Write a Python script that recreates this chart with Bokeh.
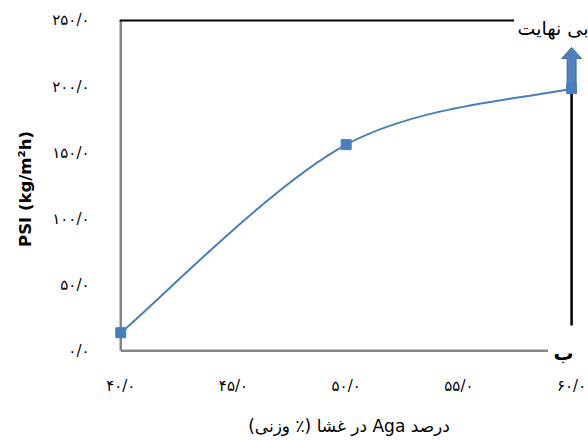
from bokeh.plotting import figure
from bokeh.models import FixedTicker, Label, Range1d
from bokeh.embed import file_html
from bokeh.resources import INLINE

# ---- data ----
aga_pct = [40, 50, 60]
psi = [13.6, 156.0, 198.5]
x_ticks = [40, 45, 50, 55, 60]
x_tick_labels = ["۴۰/۰", "۴۵/۰", "۵۰/۰", "۵۵/۰", "۶۰/۰"]
y_ticks = [0, 50, 100, 150, 200, 250]
y_tick_labels = ["۰/۰", "۵۰/۰", "۱۰۰/۰", "۱۵۰/۰", "۲۰۰/۰", "۲۵۰/۰"]
x_title = "\u202Bدرصد Aga در غشا (٪ وزنی)\u202C"
y_title = "PSI (kg/m²h)"
infinity_text = "بی نهایت"
panel_letter = "ب"

BLUE = "#4a7ebb"
ARROW_BLUE = "#4f81bd"
GRAY = "#868686"

X0, X1 = 39.5, 60.75
Y0, Y1 = -12, 256.8
FRAME_W = 588 - 109
FRAME_H = 441 - 11 - 75

p = figure(width=588, height=441, output_backend="svg", toolbar_location=None,
           x_range=Range1d(X0, X1), y_range=Range1d(Y0, Y1),
           min_border_left=109, min_border_right=0, min_border_top=11,
           min_border_bottom=75)
p.outline_line_color = None
p.grid.visible = False
p.background_fill_color = "white"

for ax in (p.xaxis[0], p.yaxis[0]):
    ax.axis_line_color = None
    ax.major_tick_line_color = None
    ax.minor_tick_line_color = None
    ax.major_label_text_font = "DejaVu Sans"
    ax.major_label_text_font_size = "15px"
    ax.major_label_text_color = "black"

p.xaxis.ticker = FixedTicker(ticks=x_ticks)
p.xaxis.major_label_overrides = dict(zip(x_ticks, x_tick_labels))
p.yaxis.ticker = FixedTicker(ticks=y_ticks)
p.yaxis.major_label_overrides = dict(zip(y_ticks, y_tick_labels))
p.xaxis.major_label_standoff = 4
p.yaxis.major_label_standoff = 14

p.xaxis.axis_label = x_title
p.xaxis.axis_label_text_font = "DejaVu Sans"
p.xaxis.axis_label_text_font_size = "17px"
p.xaxis.axis_label_text_font_style = "normal"
p.xaxis.axis_label_text_color = "black"
p.xaxis.axis_label_standoff = 18

p.yaxis.axis_label = y_title
p.yaxis.axis_label_text_font = "DejaVu Sans"
p.yaxis.axis_label_text_font_size = "16.5px"
p.yaxis.axis_label_text_font_style = "bold"
p.yaxis.axis_label_text_color = "black"
p.yaxis.axis_label_standoff = 14

x0 = aga_pct[0]
x_last = aga_pct[-1]
y_top = y_ticks[-1]
y_bot = y_ticks[0]

# frame-like lines
p.segment(x0=[x0], y0=[y_bot], x1=[x0], y1=[y_top], line_color=GRAY, line_width=2.5)
p.segment(x0=[x0], y0=[y_bot], x1=[58.95], y1=[y_bot], line_color=GRAY, line_width=2.5)
p.segment(x0=[x0 - 0.05], y0=[y_top], x1=[57.45], y1=[y_top], line_color="black", line_width=2)
p.segment(x0=[x_last], y0=[19], x1=[x_last], y1=[225], line_color="black", line_width=2.5)

# smoothed line (Excel-like cubic bezier through the points)
pts = list(zip(aga_pct, psi))
n = len(pts)
bx0, by0, bx1, by1, c0x, c0y, c1x, c1y = ([] for _ in range(8))
for i in range(n - 1):
    pm = pts[max(i - 1, 0)]
    pa = pts[i]
    pb = pts[i + 1]
    pn = pts[min(i + 2, n - 1)]
    bx0.append(pa[0]); by0.append(pa[1])
    bx1.append(pb[0]); by1.append(pb[1])
    c0x.append(pa[0] + (pb[0] - pm[0]) / 6); c0y.append(pa[1] + (pb[1] - pm[1]) / 6)
    c1x.append(pb[0] - (pn[0] - pa[0]) / 6); c1y.append(pb[1] - (pn[1] - pa[1]) / 6)
p.bezier(x0=bx0, y0=by0, x1=bx1, y1=by1, cx0=c0x, cy0=c0y, cx1=c1x, cy1=c1y,
         line_color=BLUE, line_width=2)

# upward block arrow above the last point (sized in pixels, converted to data units)
ux = (X1 - X0) / FRAME_W      # data units per pixel, x
uy = (Y1 - Y0) / FRAME_H      # data units per pixel, y
tip_y = psi[-1] + 41 * uy
head_base = tip_y - 11 * uy
shaft_bot = psi[-1] + 5 * uy
ax_ = [x_last, x_last + 10 * ux, x_last + 4.5 * ux, x_last + 4.5 * ux,
       x_last - 4.5 * ux, x_last - 4.5 * ux, x_last - 10 * ux]
ay_ = [tip_y, head_base, head_base, shaft_bot, shaft_bot, head_base, head_base]
p.patch(ax_, ay_, fill_color=ARROW_BLUE, line_color="#41719c", line_width=1)

p.scatter(aga_pct, psi, marker="square", size=10, fill_color=BLUE, line_color=BLUE)

p.add_layout(Label(x=57.6, y=y_top, text=infinity_text, text_align="left",
                   text_baseline="alphabetic", y_offset=-8,
                   text_font="DejaVu Sans", text_font_size="19px", text_color="black"))
p.add_layout(Label(x=x_last, y=y_bot, text=panel_letter, text_align="right",
                   text_baseline="alphabetic", x_offset=2, y_offset=-2,
                   text_font="DejaVu Sans", text_font_size="20px",
                   text_font_style="bold", text_color="black"))

open("out.html", "w").write(file_html(p, INLINE))
